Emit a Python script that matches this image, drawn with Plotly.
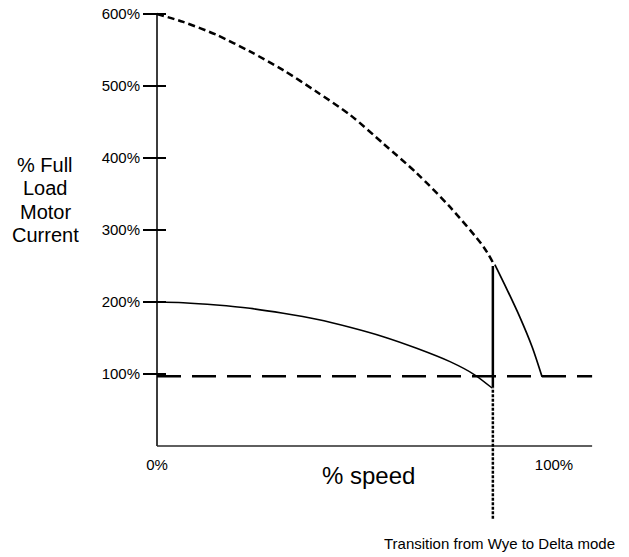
import plotly.graph_objects as go

# ---- data ----
speed_locked = [0, 6.6, 15.0, 23.4, 31.8, 40.2, 48.6, 57.0, 65.4, 73.8, 82.2, 84.7]
current_locked = [600, 589, 571, 548, 522, 492, 460, 420, 379, 332, 277, 254]

speed_wye = [0, 6.6, 15.0, 23.4, 31.8, 40.2, 48.6, 57.0, 65.4, 73.8, 80.1, 84.4]
current_wye = [200, 199, 195.8, 191.2, 184.3, 176, 164.9, 151.8, 135.7, 117.1, 98.6, 80.5]

speed_delta = [85.1, 88.2, 91.4, 94.5, 97.0]
current_delta = [252, 217, 179, 137.5, 96]

transition_speed = 84.6
transition_top = 250
transition_bottom = 81
transition_marker_end = -101

full_load_level = 97
speed_axis_end = 109.6

y_ticks = [100, 200, 300, 400, 500, 600]
y_tick_labels = ["100%", "200%", "300%", "400%", "500%", "600%"]
x_ticks = [0, 100]
x_tick_labels = ["0%", "100%"]

# ---- geometry (pixels) ----
W, H = 629, 557
X0PX, XSCALE = 157, 3.97   # px of 0 %, px per % speed
Y0PX, YSCALE = 446, 0.72   # px of 0 %, px per % current
xr = [-X0PX / XSCALE, (W - X0PX) / XSCALE]
yr = [(Y0PX - H) / YSCALE, Y0PX / YSCALE]

FONT = "Liberation Sans, Arial, sans-serif"
fig = go.Figure()

# axis lines
fig.add_trace(go.Scatter(x=[0, 0], y=[0, max(y_ticks)], mode="lines",
                         line=dict(color="#3c3c3c", width=2), hoverinfo="skip"))
fig.add_trace(go.Scatter(x=[0, speed_axis_end], y=[0, 0], mode="lines",
                         line=dict(color="#2a2a2a", width=1.5), hoverinfo="skip"))

# tick marks crossing y axis
tx, ty = [], []
for v in y_ticks:
    tx += [-14 / XSCALE, 9 / XSCALE, None]
    ty += [v, v, None]
fig.add_trace(go.Scatter(x=tx, y=ty, mode="lines",
                         line=dict(color="black", width=2), hoverinfo="skip"))

# 100% full load reference
fig.add_trace(go.Scatter(x=[0, speed_axis_end], y=[full_load_level, full_load_level],
                         mode="lines", line=dict(color="black", width=2.5, dash="24px,11px"),
                         hoverinfo="skip"))

# locked-rotor (across-the-line) curve
fig.add_trace(go.Scatter(x=speed_locked, y=current_locked, mode="lines",
                         line=dict(color="black", width=2.5, dash="7px,4px", shape="spline",
                                   smoothing=0.8),
                         hoverinfo="skip"))

# wye curve
fig.add_trace(go.Scatter(x=speed_wye, y=current_wye, mode="lines",
                         line=dict(color="black", width=1.5, shape="spline", smoothing=0.8),
                         hoverinfo="skip"))

# delta curve
fig.add_trace(go.Scatter(x=speed_delta, y=current_delta, mode="lines",
                         line=dict(color="black", width=1.7, shape="spline", smoothing=0.8),
                         hoverinfo="skip"))

# transition vertical
fig.add_trace(go.Scatter(x=[transition_speed, transition_speed],
                         y=[transition_bottom, transition_top], mode="lines",
                         line=dict(color="black", width=2.5), hoverinfo="skip"))
fig.add_trace(go.Scatter(x=[transition_speed, transition_speed],
                         y=[transition_marker_end, transition_bottom], mode="lines",
                         line=dict(color="black", width=2.5, dash="3px,1.5px"), hoverinfo="skip"))

fig.update_layout(
    width=W, height=H, margin=dict(l=0, r=0, t=0, b=0),
    paper_bgcolor="white", plot_bgcolor="white", showlegend=False,
    font=dict(family=FONT, color="black", size=15),
    xaxis=dict(range=xr, domain=[0, 1], anchor="free", position=(H - Y0PX) / H,
               showgrid=False, zeroline=False, showline=False,
               tickvals=x_ticks, ticktext=x_tick_labels, ticks="outside",
               ticklen=5, tickcolor="rgba(0,0,0,0)", tickfont=dict(size=15, family=FONT)),
    yaxis=dict(range=yr, domain=[0, 1], anchor="free", position=X0PX / W,
               showgrid=False, zeroline=False, showline=False,
               tickvals=y_ticks, ticktext=y_tick_labels, ticks="outside",
               ticklen=14, tickwidth=2, tickcolor="black",
               tickfont=dict(size=15, family=FONT)),
)

def px_ann(text, xpx, ypx, size):
    fig.add_annotation(text=text, x=xpx / W, y=1 - ypx / H, xref="paper", yref="paper",
                       showarrow=False, xanchor="center", yanchor="middle",
                       font=dict(size=size, family=FONT, color="black"))

for i, line in enumerate(["% Full", "Load", "Motor", "Current"]):
    px_ann(line, 45, 165 + i * 23.3, 20)
px_ann("% speed", 368, 475, 24)
px_ann("Transition from Wye to Delta mode", 499, 543, 15)

fig.write_html("out.html", config={"displayModeBar": False},
               post_script="document.body.style.margin='0px';document.body.style.overflow='hidden';")
